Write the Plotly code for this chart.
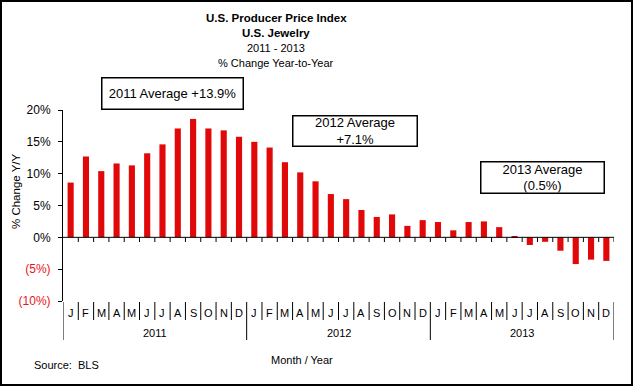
import plotly.graph_objects as go

months = ["J","F","M","A","M","J","J","A","S","O","N","D"] * 3
years = ["2011", "2012", "2013"]
values = [8.6, 12.7, 10.4, 11.6, 11.3, 13.2, 14.6, 17.1, 18.6, 17.1, 16.8, 15.8,
          15.0, 14.1, 11.8, 10.2, 8.8, 6.8, 6.0, 4.3, 3.2, 3.6, 1.8, 2.7,
          2.4, 1.1, 2.4, 2.5, 1.6, 0.2, -1.2, -0.7, -2.1, -4.2, -3.5, -3.7]
ytick_vals = [-10, -5, 0, 5, 10, 15, 20]
ytick_text = ['<span style="color:#e8141c">(10%)</span>', '<span style="color:#e8141c">(5%)</span>',
              "0%", "5%", "10%", "15%", "20%"]
averages = ["2011 Average +13.9%", "2012 Average<br>+7.1%", "2013 Average<br>(0.5%)"]
title_lines = ["<b>U.S. Producer Price Index</b>", "<b>U.S. Jewelry</b>", "2011 - 2013", "% Change Year-to-Year"]

W, H = 633, 386
L, R, T, B = 63, 614, 110, 301
pw, ph = R - L, B - T

def px_x(x):
    return (x - L) / pw

def px_y(y):
    return (B - y) / ph

FONT = "Liberation Sans, Arial, sans-serif"
n = len(values)
xs = list(range(n))

fig = go.Figure()
fig.add_trace(go.Bar(x=xs, y=values, marker_color="#e00808", marker_line_width=0, width=0.4))

shapes = []
annotations = []

# zero line
shapes.append(dict(type="line", xref="x", yref="y", x0=-0.5, x1=n - 0.5, y0=0, y1=0,
                   line=dict(color="black", width=1)))
# ticks on zero line and month separators
for k in range(n):
    b = k + 0.5
    shapes.append(dict(type="line", xref="x", yref="paper", x0=b, x1=b,
                       y0=px_y(237.5), y1=px_y(242), line=dict(color="black", width=1)))
for k in range(n + 1):
    b = k - 0.5
    bottom = 340 if k % 12 == 0 else 320
    shapes.append(dict(type="line", xref="x", yref="paper", x0=b, x1=b,
                       y0=px_y(302), y1=px_y(bottom), line=dict(color="black", width=1)))
# outer border
shapes.append(dict(type="rect", xref="paper", yref="paper", x0=px_x(1), x1=px_x(632),
                   y0=px_y(385), y1=px_y(1), line=dict(color="black", width=2)))

for i, m in enumerate(months):
    annotations.append(dict(x=i, xref="x", y=px_y(313), yref="paper", text=m, showarrow=False,
                            font=dict(family=FONT, size=11, color="black"), xanchor="center", yanchor="middle"))
for j, yr in enumerate(years):
    annotations.append(dict(x=j * 12 + 5.5, xref="x", y=px_y(333), yref="paper", text=yr, showarrow=False,
                            font=dict(family=FONT, size=11, color="black"), xanchor="center", yanchor="middle"))

for i, (t, yy) in enumerate(zip(title_lines, [18, 33, 48, 63])):
    annotations.append(dict(x=px_x(276), xref="paper", y=px_y(yy), yref="paper", text=t, showarrow=False,
                            font=dict(family=FONT, size=11.5 if i < 2 else 11, color="black"),
                            xanchor="center", yanchor="middle"))

box_specs = [(172, 94, 140, 30), (354.5, 130.5, 123, 29), (542, 177, 122, 30)]
for t, (cx, cy, bw, bh) in zip(averages, box_specs):
    annotations.append(dict(x=px_x(cx), xref="paper", y=px_y(cy), yref="paper", text=t, showarrow=False,
                            font=dict(family=FONT, size=13, color="black"), xanchor="center", yanchor="middle",
                            width=bw, height=bh, bordercolor="black", borderwidth=1.5, borderpad=0,
                            bgcolor="white", align="center", valign="middle"))

annotations.append(dict(x=px_x(16), xref="paper", y=px_y(191), yref="paper", text="% Change Y/Y", showarrow=False,
                        textangle=-90, font=dict(family=FONT, size=11.5, color="black"),
                        xanchor="center", yanchor="middle"))
annotations.append(dict(x=px_x(302), xref="paper", y=px_y(360), yref="paper", text="Month / Year", showarrow=False,
                        font=dict(family=FONT, size=11, color="black"), xanchor="center", yanchor="middle"))
annotations.append(dict(x=px_x(32), xref="paper", y=px_y(365), yref="paper", text="Source:  BLS", showarrow=False,
                        font=dict(family=FONT, size=11, color="black"), xanchor="left", yanchor="middle"))

fig.update_layout(
    width=W, height=H,
    margin=dict(l=L, r=W - R, t=T, b=H - B, pad=0),
    paper_bgcolor="white", plot_bgcolor="white",
    showlegend=False,
    bargap=0.6,
    xaxis=dict(range=[-0.5, n - 0.5], showgrid=False, zeroline=False, showline=False,
               showticklabels=False, ticks=""),
    yaxis=dict(range=[-10, 20], tickvals=ytick_vals, ticktext=ytick_text, showgrid=False, zeroline=False,
               showline=True, linecolor="black", linewidth=1, ticks="outside", ticklen=4, tickcolor="black",
               ticklabelstandoff=5, tickfont=dict(family=FONT, size=12, color="black")),
    shapes=shapes,
    annotations=annotations,
)

fig.write_html("out.html", config={"displayModeBar": False},
               post_script="document.body.style.margin='0';")
